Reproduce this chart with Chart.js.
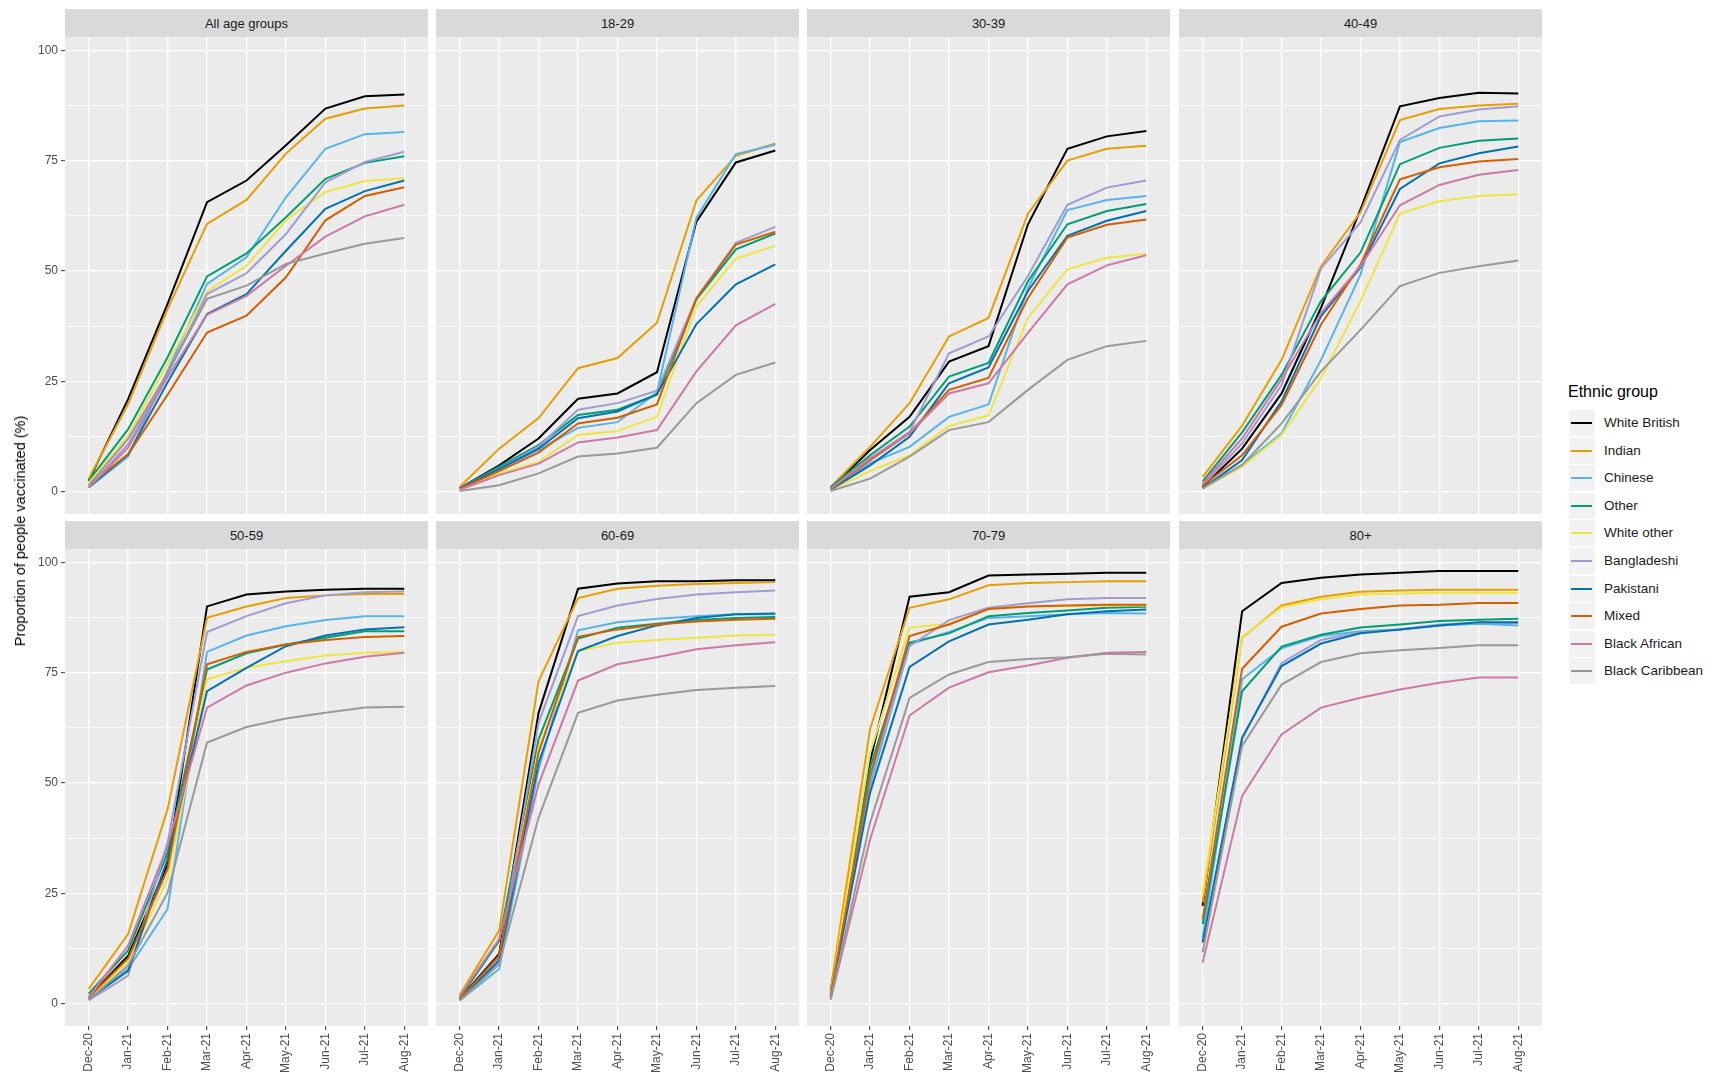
<!DOCTYPE html>
<html><head><meta charset="utf-8">
<script src="https://cdn.jsdelivr.net/npm/chart.js@4.4.1/dist/chart.umd.min.js"></script>
<style>
html,body{margin:0;padding:0;background:#fff;width:1725px;height:1084px;overflow:hidden;font-family:"Liberation Sans",Arial,sans-serif;}
.strip{position:absolute;background:#D9D9D9;color:#1A1A1A;font-size:13px;display:flex;align-items:center;justify-content:center;}
.cw{position:absolute;}
.cw canvas{display:block;}
#ytitle{position:absolute;left:20px;top:531px;transform:translate(-50%,-50%) rotate(-90deg);white-space:nowrap;font-size:14.5px;color:#000;}
#legend{position:absolute;left:1568px;top:383px;}
#legend .lt{font-size:16px;color:#000;margin-bottom:4px;}
.key{position:absolute;width:26px;height:26px;background:#F2F2F2;}
.key i{position:absolute;left:2px;right:3px;top:12px;height:2px;}
.lab{position:absolute;font-size:13.5px;color:#1A1A1A;white-space:nowrap;}
</style></head><body>
<div id="root"></div>
<div id="ytitle">Proportion of people vaccinated (%)</div>
<div id="legend"><div class="lt">Ethnic group</div></div>
<script>
const months = ['Dec-20','Jan-21','Feb-21','Mar-21','Apr-21','May-21','Jun-21','Jul-21','Aug-21'];
const groups = ['White British','Indian','Chinese','Other','White other','Bangladeshi','Pakistani','Mixed','Black African','Black Caribbean'];
const colors = ['#000000','#E69F00','#56B4E9','#009E73','#F0E442','#A09BD0','#0072B2','#D55E00','#CC79A7','#999999'];
const panelTitles = ['All age groups','18-29','30-39','40-49','50-59','60-69','70-79','80+'];
const yTickLabels = [0,25,50,75,100];
const yGridValues = [0,12.5,25,37.5,50,62.5,75,87.5,100];

// each panel: one row per ethnic group (same order as groups), one value per month
const allAges = [
 [2.5,21,42.6,65.6,70.5,78.5,86.8,89.6,90],
 [3,19.9,41.4,60.7,66.1,76.6,84.5,86.8,87.5],
 [1,8,27.4,47.1,53.1,66.7,77.7,81,81.5],
 [2.5,14.2,30.5,48.8,54,62.2,70.9,74.5,76],
 [2,12.7,29,45.4,51.2,61.5,67.9,70.4,71],
 [1,10.8,26.7,44.8,49.5,58.4,70.1,74.7,77],
 [1,8.5,24.8,40.3,44.8,54.6,64.1,68.1,70.5],
 [1.5,8.5,22,36.1,39.9,48.6,61.5,67,69],
 [1,10,26,40.1,44.4,51.2,57.8,62.4,65],
 [1.5,12,27,43.7,46.7,51.6,54,56.2,57.5]
];
const age18to29 = [
 [0.8,6,12.1,21.1,22.3,27.1,61.2,74.6,77.3],
 [1.1,9.8,16.7,28,30.3,38.3,66,76.1,78.9],
 [0.8,5,9.5,14.5,15.8,22.5,62.1,76.5,78.6],
 [0.8,5.7,10.6,17.4,18.6,22,43.6,54.9,58.5],
 [0.6,4.2,6.8,12.9,13.8,17,42,52.8,55.7],
 [0.8,5.3,10.3,18.6,20.1,22.9,43.9,56.4,60],
 [0.8,5.2,9.8,16.7,18.2,22.1,38,47,51.5],
 [0.7,4.7,8.9,15.5,16.8,19.8,43.8,56,58.9],
 [0.5,3.8,6.4,11.2,12.3,14,27.3,37.7,42.6],
 [0.2,1.5,4.2,8,8.7,10,20.1,26.5,29.3]
];
const age30to39 = [
 [0.8,9.5,17,29.5,33,60.6,77.7,80.5,81.7],
 [1.1,10.2,20.1,35.2,39.4,63,75,77.7,78.4],
 [0.5,6.5,10.2,17,19.8,46.2,63.8,66.1,67],
 [1.1,8.3,14.8,26.1,29.2,47.7,60.6,63.6,65.2],
 [0.4,4.7,8.3,14.9,17.3,39.4,50.4,53,53.9],
 [0.7,7.6,13.6,31.4,35.2,48.9,65,68.9,70.5],
 [0.5,6,12.5,24.6,28.2,45.5,58,61.4,63.6],
 [0.7,7.2,13.3,23.1,25.8,43.9,57.6,60.5,61.7],
 [0.7,7.6,13.3,22.3,24.6,36,47,51.3,53.6],
 [0.2,3,8,14,15.8,23.1,29.9,33,34.2]
];
const age40to49 = [
 [1.1,9.8,22.3,41.7,64,87.3,89.2,90.4,90.2],
 [3.4,15,29.9,51.1,63.3,84.2,86.7,87.5,87.9],
 [0.8,6.1,13.3,29.9,49.2,79.2,82.4,83.9,84.1],
 [2.4,13.5,26.5,43.2,54.2,74.2,77.9,79.5,80],
 [0.8,5.7,12.9,25.8,43.2,63,65.8,67,67.4],
 [1.5,11,24.2,50.6,61,79.7,85,86.6,87.3],
 [0.8,7.2,20.5,39.8,50.8,68.6,74.4,76.7,78.2],
 [1.4,8.3,19.7,37.9,51.5,70.8,73.5,74.8,75.4],
 [1.9,12.1,25.5,40.5,51.1,64.9,69.5,71.8,72.9],
 [0.8,6.1,15.5,27.3,36.7,46.6,49.6,51.1,52.4]
];
const age50to59 = [
 [1.5,10.9,31.6,90,92.7,93.4,93.8,94,94],
 [3.4,15.8,44.1,87.4,90,91.9,92.5,92.8,92.8],
 [1.1,7.9,21.5,79.7,83.4,85.5,86.9,87.8,87.8],
 [2.3,12.1,34.3,75.7,79.4,81.4,82.9,84.4,84.4],
 [1.1,9.4,28.3,73.5,76.1,77.6,78.9,79.5,79.7],
 [0.8,6.4,36.5,84.2,87.8,90.7,92.5,93.2,93.4],
 [1.1,7.5,32.8,70.8,76.1,81,83.4,84.8,85.3],
 [1.5,10.3,30.5,76.9,79.7,81.4,82.4,83.1,83.3],
 [1.5,13.2,35.8,67.1,72.1,75,77.1,78.6,79.5],
 [0.9,8.7,25.2,59.2,62.7,64.6,65.9,67.1,67.3]
];
const age60to69 = [
 [1.2,11.3,65.9,94,95.2,95.7,95.7,95.9,95.9],
 [2,16.6,73.1,91.9,94,94.7,95.1,95.3,95.5],
 [0.8,7.9,53.1,84.6,86.4,87.2,87.8,88.2,88.2],
 [1.3,14.3,59.9,82.7,85.2,86.1,86.9,87.4,87.6],
 [1,10.5,58,79.9,81.8,82.4,82.9,83.4,83.6],
 [1,10.2,63.7,87.8,90.2,91.7,92.7,93.2,93.6],
 [0.9,9.8,54.6,79.9,83.3,85.7,87.4,88.2,88.4],
 [1.1,10.9,56.9,83.1,84.8,85.9,86.6,87,87.2],
 [1.8,14.7,49.7,73.2,76.9,78.5,80.3,81.2,81.9],
 [0.7,9,42.2,65.9,68.7,70,71.1,71.6,72]
];
const age70to79 = [
 [1.5,55,92.2,93.2,97,97.2,97.4,97.6,97.6],
 [3.4,62.3,89.7,91.6,94.8,95.3,95.5,95.7,95.7],
 [1.5,49.4,81.4,84.2,87.4,87.8,88.2,88.5,88.4],
 [3,53.5,81.8,83.9,87.8,88.5,89.1,89.7,89.9],
 [2.5,56.9,85.2,86.1,89.5,90,90.1,90.2,90.2],
 [1.5,51,81,86.9,89.7,90.7,91.6,91.9,91.9],
 [1.5,47.9,76.3,82.1,85.9,87,88.2,88.9,89.3],
 [2,51.6,83.3,85.9,89.4,90,90.2,90.4,90.4],
 [1,37.3,65.3,71.6,75.1,76.6,78.4,79.5,79.7],
 [1,41.1,69.3,74.6,77.4,78.1,78.5,79.3,79.1]
];
const age80plus = [
 [22.2,88.9,95.3,96.5,97.2,97.6,98,98,98],
 [23,82.9,90.2,92.2,93.3,93.6,93.8,93.8,93.8],
 [15,73.5,80.5,83.3,84.4,84.8,85.7,86.1,85.7],
 [18.1,70.8,80.9,83.6,85.2,85.9,86.7,87,87.2],
 [24.9,83.1,89.8,91.6,92.7,92.9,93.1,93.1,93.1],
 [14,60,77.2,82.4,84.2,84.8,85.9,86.3,86.2],
 [13.9,60.3,76.5,81.6,83.9,84.8,85.7,86.4,86.4],
 [19.2,75.9,85.4,88.4,89.4,90.2,90.4,90.8,90.8],
 [9.4,47.1,61,67.1,69.3,71.2,72.7,73.9,73.9],
 [11.7,58.4,72.3,77.4,79.4,80.1,80.6,81.2,81.2]
];
const panelData = [allAges, age18to29, age30to39, age40to49, age50to59, age60to69, age70to79, age80plus];

// ---- layout (not data) ----
const FONT = '"Liberation Sans", Arial, sans-serif';
const colLeft = [65, 436, 807, 1179];
const PW = 363;
const stripTop = [9, 521];
const STRIP_H = 28;
const plotTop = [37, 549];
const PH = 477;
const LEFT_M = 40, BOTTOM_M = 58;
const EXTRA = 14; // extra canvas room above/below so label padding never shrinks the plot

const bgPlugin = {
  id: 'panelBg',
  beforeDraw(chart) {
    const {ctx, chartArea: a} = chart;
    ctx.save();
    ctx.fillStyle = '#EBEBEB';
    ctx.fillRect(a.left, a.top, a.right - a.left, a.bottom - a.top);
    ctx.restore();
  }
};

const root = document.getElementById('root');
panelTitles.forEach((title, p) => {
  const r = Math.floor(p / 4), c = p % 4;
  const lm = c === 0 ? LEFT_M : 0;
  const bm = r === 1 ? BOTTOM_M : 0;
  const padBottom = r === 1 ? 0 : EXTRA;
  const wrap = document.createElement('div');
  wrap.className = 'cw';
  wrap.style.left = (colLeft[c] - lm) + 'px';
  wrap.style.top = (plotTop[r] - EXTRA) + 'px';
  const cw = PW + lm, ch = PH + bm + EXTRA + padBottom;
  const cv = document.createElement('canvas');
  cv.width = cw; cv.height = ch;
  cv.style.width = cw + 'px'; cv.style.height = ch + 'px';
  wrap.appendChild(cv);
  root.appendChild(wrap);

  const strip = document.createElement('div');
  strip.className = 'strip';
  strip.style.left = colLeft[c] + 'px';
  strip.style.top = stripTop[r] + 'px';
  strip.style.width = PW + 'px';
  strip.style.height = STRIP_H + 'px';
  strip.textContent = title;
  root.appendChild(strip);

  const datasets = groups.map((g, gi) => ({
    label: g,
    data: panelData[p][gi].map((v, i) => ({x: i, y: v})),
    borderColor: colors[gi],
    backgroundColor: colors[gi],
    borderWidth: 2,
    pointRadius: 0,
    tension: 0,
    fill: false,
    order: groups.length - gi
  }));

  new Chart(cv, {
    type: 'line',
    data: {datasets},
    plugins: [bgPlugin],
    options: {
      responsive: false,
      animation: false,
      events: [],
      layout: {padding: {top: EXTRA, bottom: padBottom, left: 0, right: 0}},
      plugins: {legend: {display: false}, tooltip: {enabled: false}, title: {display: false}},
      scales: {
        x: {
          type: 'linear', min: -0.6, max: 8.6,
          afterBuildTicks: s => { s.ticks = months.map((m, i) => ({value: i})); },
          afterFit: s => { s.height = bm; },
          ticks: {
            display: r === 1, autoSkip: false, maxRotation: 90, minRotation: 90,
            callback: v => months[v], color: '#4D4D4D', padding: 3,
            font: {size: 12, family: FONT}
          },
          grid: {color: '#FFFFFF', lineWidth: 1.3, drawTicks: r === 1, tickLength: 4, tickColor: '#333333', tickWidth: 1},
          border: {display: false}
        },
        y: {
          type: 'linear', min: -5, max: 103,
          afterBuildTicks: s => { s.ticks = yGridValues.map(v => ({value: v})); },
          afterFit: s => { s.width = lm; },
          ticks: {
            display: c === 0, autoSkip: false, padding: 3,
            callback: v => yTickLabels.includes(v) ? String(v) : '',
            color: '#4D4D4D', font: {size: 12, family: FONT}
          },
          grid: {
            color: '#FFFFFF',
            lineWidth: ctx => (ctx.tick && ctx.tick.value % 25 === 0) ? 1.3 : 0.6,
            drawTicks: c === 0, tickLength: 4, tickWidth: 1,
            tickColor: ctx => (ctx.tick && ctx.tick.value % 25 === 0) ? '#333333' : 'rgba(0,0,0,0)'
          },
          border: {display: false}
        }
      }
    }
  });
});

// legend (HTML, built from the same arrays)
const legend = document.getElementById('legend');
groups.forEach((g, gi) => {
  const top = 27 + gi * 27.6;
  const k = document.createElement('div');
  k.className = 'key';
  k.style.left = '1px';
  k.style.top = top + 'px';
  const line = document.createElement('i');
  line.style.background = colors[gi];
  k.appendChild(line);
  legend.appendChild(k);
  const t = document.createElement('div');
  t.className = 'lab';
  t.style.left = '36px';
  t.style.top = (top + 5) + 'px';
  t.textContent = g;
  legend.appendChild(t);
});
</script>
</body></html>
